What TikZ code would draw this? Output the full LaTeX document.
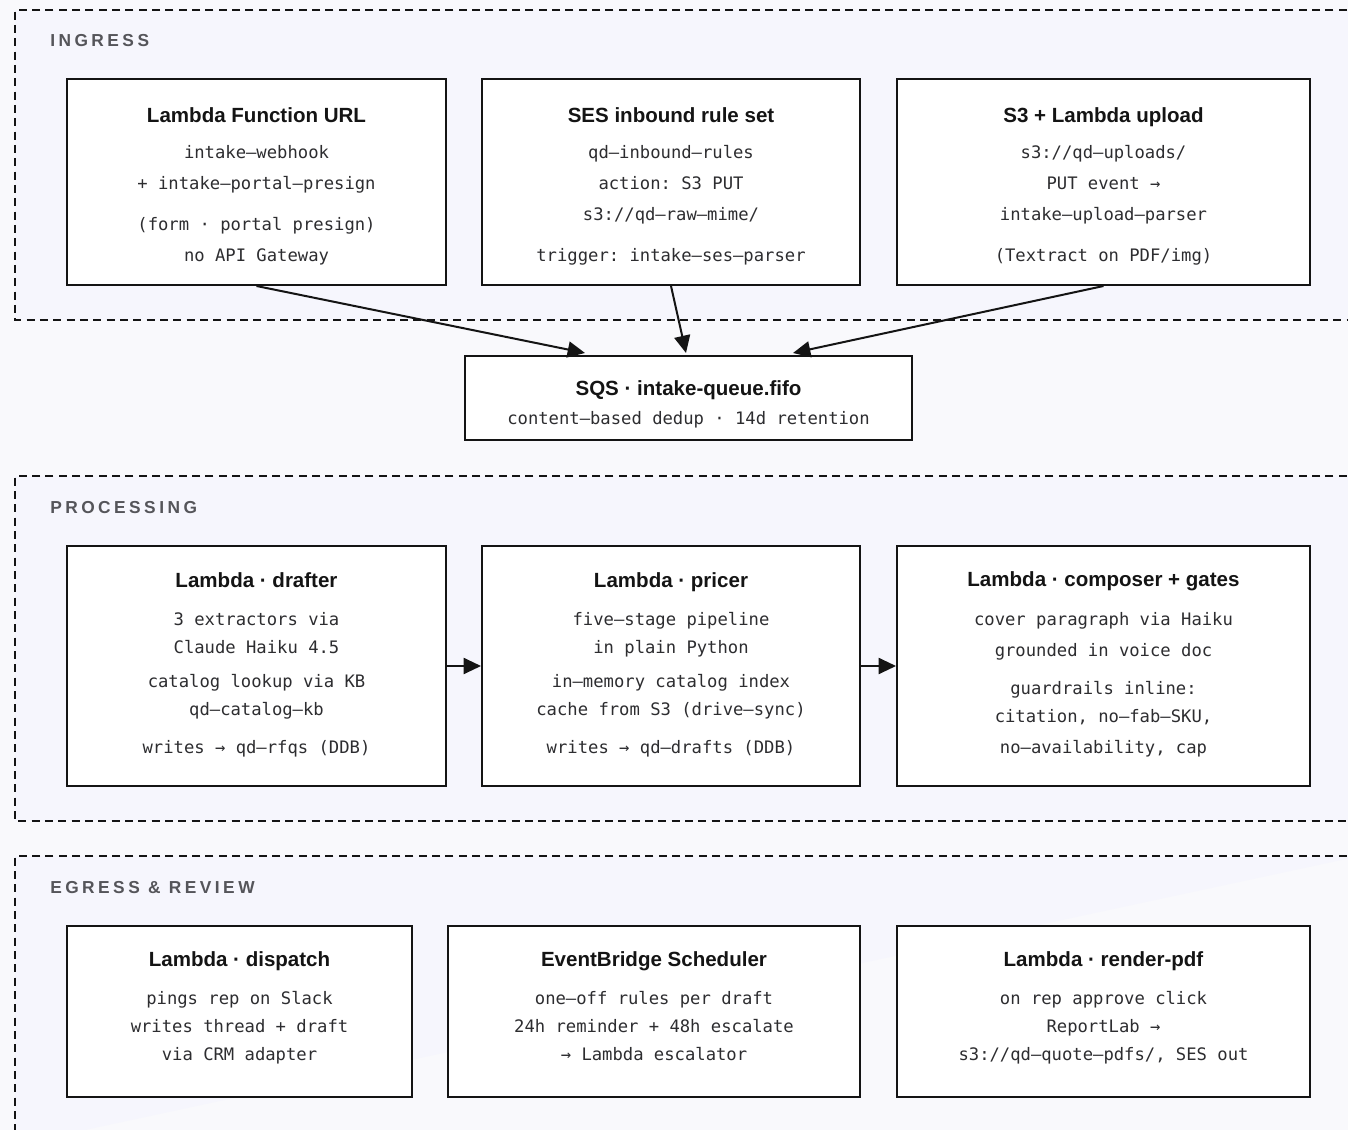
\documentclass[tikz,border=0pt]{standalone}
\usepackage{fontspec}
\setmainfont{Liberation Sans}
\newfontfamily\titlefont{Liberation Sans}
\newfontfamily\monofont{DejaVu Sans Mono}
\newfontfamily\labelfont[LetterSpace=20]{Liberation Sans}
\usetikzlibrary{arrows.meta,calc}
\definecolor{pagebg}{RGB}{249,249,252}
\definecolor{regionbg}{RGB}{246,246,253}
\definecolor{labelgray}{RGB}{85,85,90}
\definecolor{monogray}{RGB}{45,45,48}
\definecolor{inkblack}{RGB}{20,20,20}
% title line: #1 = height of the first line (strut)
\newcommand{\bt}[2][12pt]{{\titlefont\bfseries\fontsize{15.4}{18}\selectfont\color{inkblack}\rule{0pt}{#1}#2}}
% end strut: #1 = depth of the last line
\newcommand{\el}[1]{\rule[-#1]{0pt}{#1}}
\tikzset{
  region/.style={draw=inkblack, line width=1.1pt, dash pattern=on 6pt off 4pt, fill=regionbg},
  regionlabel/.style={anchor=west, inner sep=0pt, font=\labelfont\bfseries\fontsize{13}{15}\selectfont, text=labelgray},
  svcbox/.style={draw=inkblack, line width=1.5pt, fill=white, align=center, inner sep=0pt,
     font=\monofont\fontsize{12.9}{21}\selectfont\frenchspacing, text=monogray},
  flow/.style={draw=inkblack, line width=1.5pt, -{Triangle[length=13pt,width=12pt]}}
}
\begin{document}
\begin{tikzpicture}[x=0.75pt,y=-0.75pt]
\useasboundingbox (0,0) rectangle (1348,1130);
\fill[pagebg] (0,0) rectangle (1348,1130);
% regions
\draw[region] (1360,10) -- (15,10) -- (15,320) -- (1360,320);
\draw[region] (1360,476) -- (15,476) -- (15,821) -- (1360,821);
\draw[region] (1360,856) -- (15,856) -- (15,1145);
\node[regionlabel] (lingress) at (50,41) {INGRESS};
\node[regionlabel] (lproc) at (50,508) {PROCESSING};
\node[regionlabel] (legress) at (50,888) {EGRESS \& REVIEW};
% ingress
\node[svcbox, minimum width=284.25pt, minimum height=154.5pt] (url) at (256.5,182)
 {\bt[19.7pt]{Lambda Function URL}\\[6pt] intake\textendash webhook\\[2.25pt] + intake\textendash portal\textendash presign\\[9.75pt] (form · portal presign)\\[2.25pt] no API Gateway\el{4pt}};
\node[svcbox, minimum width=283.5pt, minimum height=154.5pt] (ses) at (671,182)
 {\bt[19.7pt]{SES inbound rule set}\\[6pt] qd\textendash inbound\textendash rules\\[2.25pt] action: S3 PUT\\[2.25pt] s3://qd\textendash raw\textendash mime/\\[9.75pt] trigger: intake\textendash ses\textendash parser\el{4pt}};
\node[svcbox, minimum width=309.75pt, minimum height=154.5pt] (s3up) at (1103.5,182)
 {\bt[19.7pt]{S3 + Lambda upload}\\[6pt] s3://qd\textendash uploads/\\[2.25pt] PUT event →\\[2.25pt] intake\textendash upload\textendash parser\\[9.75pt] (Textract on PDF/img)\el{4pt}};
\node[svcbox, minimum width=335.25pt, minimum height=63pt] (sqs) at (688.5,398)
 {\bt[22.7pt]{SQS · intake-queue.fifo}\\[0.75pt] content\textendash based dedup · 14d retention\el{4pt}};
% processing
\node[svcbox, minimum width=284.25pt, minimum height=180pt] (drafter) at (256.5,666)
 {\bt{Lambda · drafter}\\[7.5pt] 3 extractors via\\ Claude Haiku 4.5\\[4.5pt] catalog lookup via KB\\ qd\textendash catalog\textendash kb\\[7.5pt] writes → qd\textendash rfqs (DDB)\el{5.3pt}};
\node[svcbox, minimum width=283.5pt, minimum height=180pt] (pricer) at (671,666)
 {\bt{Lambda · pricer}\\[7.5pt] five\textendash stage pipeline\\ in plain Python\\[4.5pt] in\textendash memory catalog index\\ cache from S3 (drive\textendash sync)\\[7.5pt] writes → qd\textendash drafts (DDB)\el{5.3pt}};
\node[svcbox, minimum width=309.75pt, minimum height=180pt] (composer) at (1103.5,666)
 {\bt{Lambda · composer + gates}\\[8.25pt] cover paragraph via Haiku\\[2.25pt] grounded in voice doc\\[7.5pt] guardrails inline:\\ citation, no\textendash fab\textendash SKU,\\[2.25pt] no\textendash availability, cap\el{5.3pt}};
% egress
\node[svcbox, minimum width=258.75pt, minimum height=128.25pt] (dispatch) at (239.5,1011.5)
 {\bt{Lambda · dispatch}\\[7.5pt] pings rep on Slack\\ writes thread + draft\\ via CRM adapter\el{8.3pt}};
\node[svcbox, minimum width=309pt, minimum height=128.25pt] (sched) at (654,1011.5)
 {\bt{EventBridge Scheduler}\\[7.5pt] one\textendash off rules per draft\\ 24h reminder + 48h escalate\\ → Lambda escalator\el{8.3pt}};
\node[svcbox, minimum width=309.75pt, minimum height=128.25pt] (render) at (1103.5,1011.5)
 {\bt{Lambda · render-pdf}\\[7.5pt] on rep approve click\\ ReportLab →\\ s3://qd\textendash quote\textendash pdfs/, SES out\el{8.3pt}};
% connectors
\draw[flow] (url.south) -- ($(sqs.north)+(-103.5,-2)$);
\draw[flow] (ses.south) -- ($(sqs.north)+(-2.5,-2)$);
\draw[flow] (s3up.south) -- ($(sqs.north)+(104.5,-2)$);
\draw[flow] (drafter.east) -- (pricer.west);
\draw[flow] (pricer.east) -- (composer.west);
\end{tikzpicture}
\end{document}
